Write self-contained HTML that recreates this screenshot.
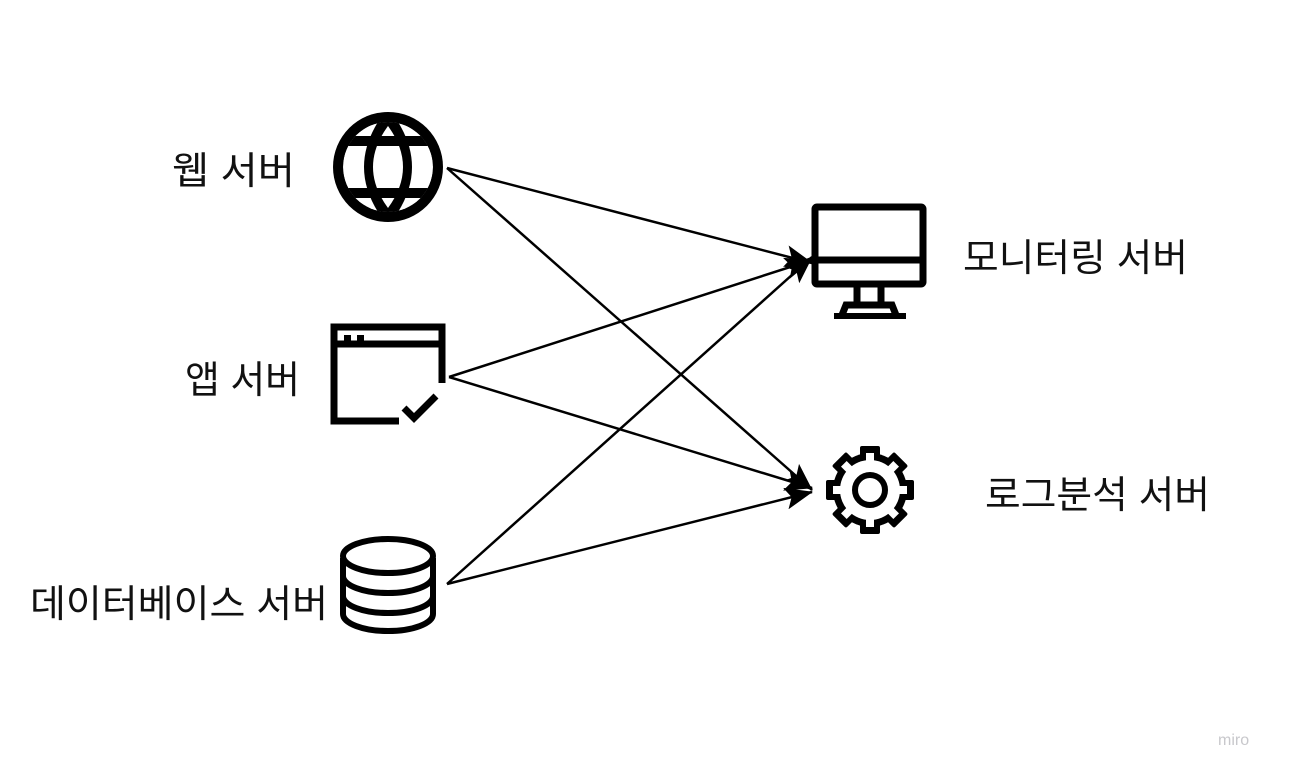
<!DOCTYPE html>
<html><head><meta charset="utf-8"><style>
html,body{margin:0;padding:0;background:#fff}
svg{display:block}
text{font-family:"Liberation Sans","Noto Sans CJK KR","NanumGothic",sans-serif;fill:#111}
</style></head><body>
<svg width="1290" height="774" viewBox="0 0 1290 774" xmlns="http://www.w3.org/2000/svg">
<defs>
<marker id="a" markerUnits="userSpaceOnUse" markerWidth="28" markerHeight="22" refX="27" refY="11" orient="auto">
<path d="M0,0 L28,11 L0,22 L6,11 Z" fill="#000"/>
</marker>
</defs>
<!-- labels -->
<text x="172" y="184" font-size="38" textLength="123" lengthAdjust="spacingAndGlyphs">웹 서버</text>
<text x="185" y="393" font-size="38" textLength="115" lengthAdjust="spacingAndGlyphs">앱 서버</text>
<text x="30" y="617" font-size="38" textLength="298" lengthAdjust="spacingAndGlyphs">데이터베이스 서버</text>
<text x="963" y="271" font-size="38" textLength="225" lengthAdjust="spacingAndGlyphs">모니터링 서버</text>
<text x="985" y="508" font-size="38" textLength="225" lengthAdjust="spacingAndGlyphs">로그분석 서버</text>
<text x="1218" y="745" font-size="16" style="fill:#c8c8cc">miro</text>

<!-- connectors -->
<g stroke="#000" stroke-width="2.5" fill="none" marker-end="url(#a)">
<line x1="447" y1="168" x2="812" y2="263"/>
<line x1="447" y1="168" x2="812" y2="490"/>
<line x1="449" y1="377" x2="812" y2="260"/>
<line x1="449" y1="377" x2="812" y2="488"/>
<line x1="447" y1="584" x2="812" y2="257"/>
<line x1="447" y1="584" x2="812" y2="492"/>
</g>

<!-- globe -->
<g>
<circle cx="388" cy="167" r="55" fill="#000"/>
<clipPath id="gc"><circle cx="388" cy="167" r="45"/></clipPath>
<g clip-path="url(#gc)">
<circle cx="388" cy="167" r="45" fill="#fff"/>
<path d="M388,108 Q340,167 388,226 Q436,167 388,108 Z" fill="#000"/>
<path d="M388,126 Q358,167 388,208 Q418,167 388,126 Z" fill="#fff"/>
<rect x="330" y="136" width="120" height="10" fill="#000"/>
<rect x="330" y="188" width="120" height="10" fill="#000"/>
</g>
</g>

<!-- browser -->
<g fill="none" stroke="#000" stroke-width="7">
<path d="M399,421 L334,421 L334,327 L442,327 L442,383"/>
<line x1="334" y1="344" x2="442" y2="344"/>
<polyline points="404,408 414,418 436,396"/>
</g>
<rect x="344" y="335" width="7" height="6" fill="#000"/>
<rect x="357" y="335" width="7" height="6" fill="#000"/>

<!-- database -->
<g fill="#fff" stroke="#000" stroke-width="6">
<path d="M343,558 L343,614 A45,17 0 0 0 433,614 L433,558"/>
<path d="M343,576 A45,17 0 0 0 433,576"/>
<path d="M343,596 A45,17 0 0 0 433,596"/>
<ellipse cx="388" cy="556" rx="45" ry="17"/>
</g>

<!-- monitor -->
<g fill="none" stroke="#000" stroke-width="7">
<rect x="815" y="207" width="108" height="77" rx="2"/>
<line x1="815" y1="260" x2="923" y2="260"/>
<line x1="857" y1="287" x2="857" y2="305"/>
<line x1="881" y1="287" x2="881" y2="305"/>
<path d="M842,315 L846,305 L892,305 L896,315"/>
</g>
<rect x="834" y="313" width="72" height="6" fill="#000"/>

<!-- gear -->
<g transform="translate(870,490)">
<g fill="#000">
<circle r="37"/>
<rect x="-10" y="-44" width="20" height="88" rx="2"/>
<rect x="-10" y="-44" width="20" height="88" rx="2" transform="rotate(45)"/>
<rect x="-10" y="-44" width="20" height="88" rx="2" transform="rotate(90)"/>
<rect x="-10" y="-44" width="20" height="88" rx="2" transform="rotate(135)"/>
</g>
<g fill="#fff">
<circle r="30"/>
<rect x="-4" y="-37" width="8" height="74"/>
<rect x="-4" y="-37" width="8" height="74" transform="rotate(45)"/>
<rect x="-4" y="-37" width="8" height="74" transform="rotate(90)"/>
<rect x="-4" y="-37" width="8" height="74" transform="rotate(135)"/>
</g>
<circle r="15" fill="none" stroke="#000" stroke-width="6"/>
</g>
</svg>
</body></html>
